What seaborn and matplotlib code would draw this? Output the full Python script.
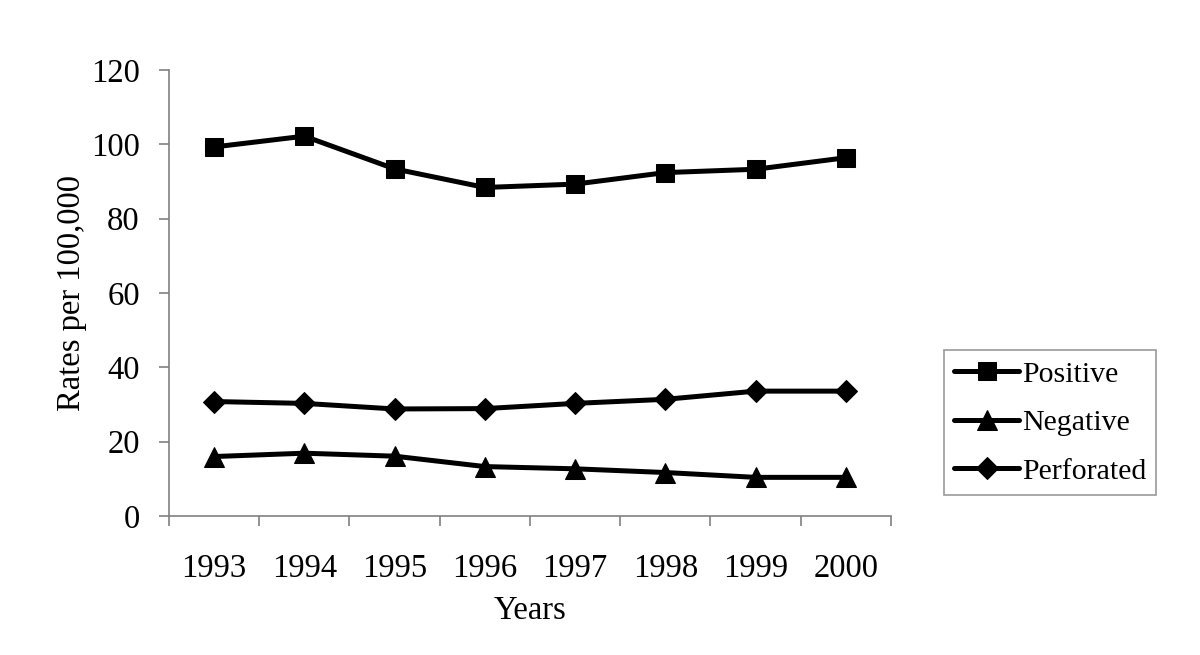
import matplotlib
matplotlib.use("Agg")
import matplotlib.pyplot as plt
import seaborn as sns
import pandas as pd
import numpy as np
from matplotlib.ticker import FixedLocator, NullFormatter, FixedFormatter

years = ["1993", "1994", "1995", "1996", "1997", "1998", "1999", "2000"]
positive = [99.3, 102.2, 93.4, 88.4, 89.3, 92.4, 93.3, 96.4]
negative = [16.0, 16.9, 16.1, 13.3, 12.7, 11.7, 10.4, 10.4]
perforated = [30.8, 30.3, 28.8, 28.9, 30.3, 31.4, 33.6, 33.6]
series_names = ["Positive", "Negative", "Perforated"]

rows = []
for name, vals in zip(series_names, [positive, negative, perforated]):
    for i, (yr, v) in enumerate(zip(years, vals)):
        rows.append({"pos": i, "Year": yr, "Rate": v, "Series": name})
df = pd.DataFrame(rows)

sns.set_theme(style="white")
plt.rcParams["font.family"] = ["Liberation Serif", "DejaVu Serif"]
plt.rcParams["text.color"] = "black"
plt.rcParams["axes.labelcolor"] = "black"
plt.rcParams["xtick.color"] = "black"
plt.rcParams["ytick.color"] = "black"

fig = plt.figure(figsize=(12, 6.55), dpi=100)
ax = fig.add_axes([0.1408, 0.2122, 0.7425 - 0.1408, 0.8931 - 0.2122])

markers = {"Positive": "s", "Negative": "^", "Perforated": "D"}
sizes_m = {"Positive": 13, "Negative": 14, "Perforated": 11}
for name in series_names:
    sub = df[df["Series"] == name]
    sns.lineplot(data=sub, x="pos", y="Rate", ax=ax, color="black", linewidth=3.6,
                 marker=markers[name], markersize=sizes_m[name],
                 markeredgecolor="black", markerfacecolor="black", label=name,
                 legend=False)

ax.set_xlim(-0.5, len(years) - 0.5)
ax.set_ylim(0, 120)
ax.set_yticks(np.arange(0, 121, 20))
ax.yaxis.set_major_formatter(FixedFormatter([str(v) for v in range(0, 121, 20)]))

ax.xaxis.set_major_locator(FixedLocator(np.arange(-0.5, len(years), 1.0)))
ax.xaxis.set_major_formatter(NullFormatter())
ax.xaxis.set_minor_locator(FixedLocator(np.arange(len(years))))
ax.xaxis.set_minor_formatter(FixedFormatter(years))

fs = 23.5
ax.tick_params(axis="x", which="major", direction="out", length=7, width=1.2,
               color="#808080", bottom=True)
ax.tick_params(axis="x", which="minor", length=0, pad=27, labelsize=fs, bottom=True,
               labelcolor="black")
ax.tick_params(axis="y", which="major", direction="out", length=7, width=1.2,
               color="#808080", pad=14, labelsize=fs, left=True, labelcolor="black")

for s in ["top", "right"]:
    ax.spines[s].set_visible(False)
for s in ["left", "bottom"]:
    ax.spines[s].set_color("#808080")
    ax.spines[s].set_linewidth(1.2)

ax.set_xlabel("Years", fontsize=fs, labelpad=8, color="black")
ax.set_ylabel("Rates per 100,000", fontsize=fs, labelpad=3, color="black")
ax.grid(False)

handles = [ax.lines[i] for i in range(3)]
leg = fig.legend(handles, series_names, loc="lower left",
                 bbox_to_anchor=(944 / 1200, 1 - 495 / 655), fontsize=21.5,
                 frameon=True, fancybox=False, edgecolor="#808080",
                 handlelength=2.15, handletextpad=0.1, labelspacing=0.72,
                 borderpad=0.35, borderaxespad=0)
leg.get_frame().set_linewidth(1.2)
for t in leg.get_texts():
    t.set_color("black")

fig.savefig("out.png", dpi=100, facecolor="white")
